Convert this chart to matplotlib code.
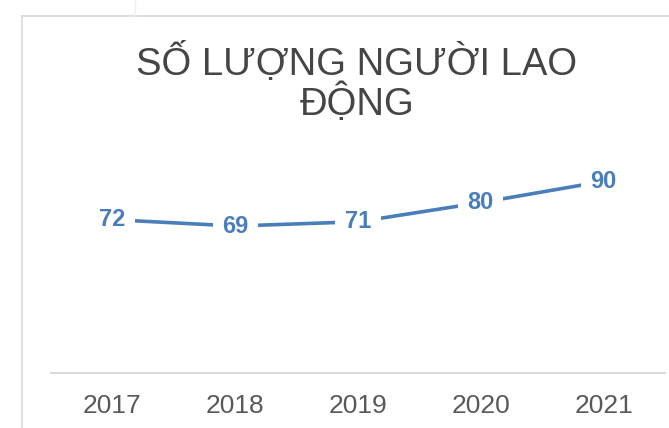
import matplotlib.pyplot as plt
from matplotlib.lines import Line2D

years = ['2017', '2018', '2019', '2020', '2021']
workers = [72, 69, 71, 80, 90]
title = 'SỐ LƯỢNG NGƯỜI LAO\nĐỘNG'

blue = '#4a7ebb'
grey = '#595959'
plt.rcParams['font.family'] = ['Liberation Sans', 'DejaVu Sans']

fig = plt.figure(figsize=(6.69, 4.28), dpi=100)
ax = fig.add_axes([51 / 669, 55 / 428, 614 / 669, 213 / 428])

x = range(len(years))
ax.plot(x, workers, color=blue, lw=2.6, solid_capstyle='butt', zorder=2)
for i, v in zip(x, workers):
    ax.text(i, v, str(v), ha='center', va='center', fontsize=17, fontweight='bold',
            color=blue, zorder=3,
            bbox=dict(boxstyle='square,pad=0.4', fc='white', ec='none'))

ax.set_xlim(-0.5, len(years) - 0.5)
ax.set_ylim(0, 100)
ax.set_xticks(list(x))
ax.set_xticklabels(years, fontsize=19, color=grey)
ax.tick_params(axis='x', length=0, pad=15)
ax.set_yticks([])
for side in ['top', 'right', 'left']:
    ax.spines[side].set_visible(False)
ax.spines['bottom'].set_color('#d9d9d9')
ax.spines['bottom'].set_linewidth(1.5)

fig.text(357 / 669, 1 - 83 / 428, title, ha='center', va='center', fontsize=27.5,
         color='#454545', linespacing=1.0)

# chart border pieces visible in the crop
border = '#d9d9d9'
fig.add_artist(Line2D([22 / 669, 22 / 669], [0, 1 - 16 / 428], color=border, lw=1.2))
fig.add_artist(Line2D([22 / 669, 1], [1 - 16 / 428, 1 - 16 / 428], color=border, lw=1.2))
fig.add_artist(Line2D([135 / 669, 135 / 669], [1 - 16 / 428, 1], color='#eeeeee', lw=1.0))

fig.savefig('out.png', dpi=100)
